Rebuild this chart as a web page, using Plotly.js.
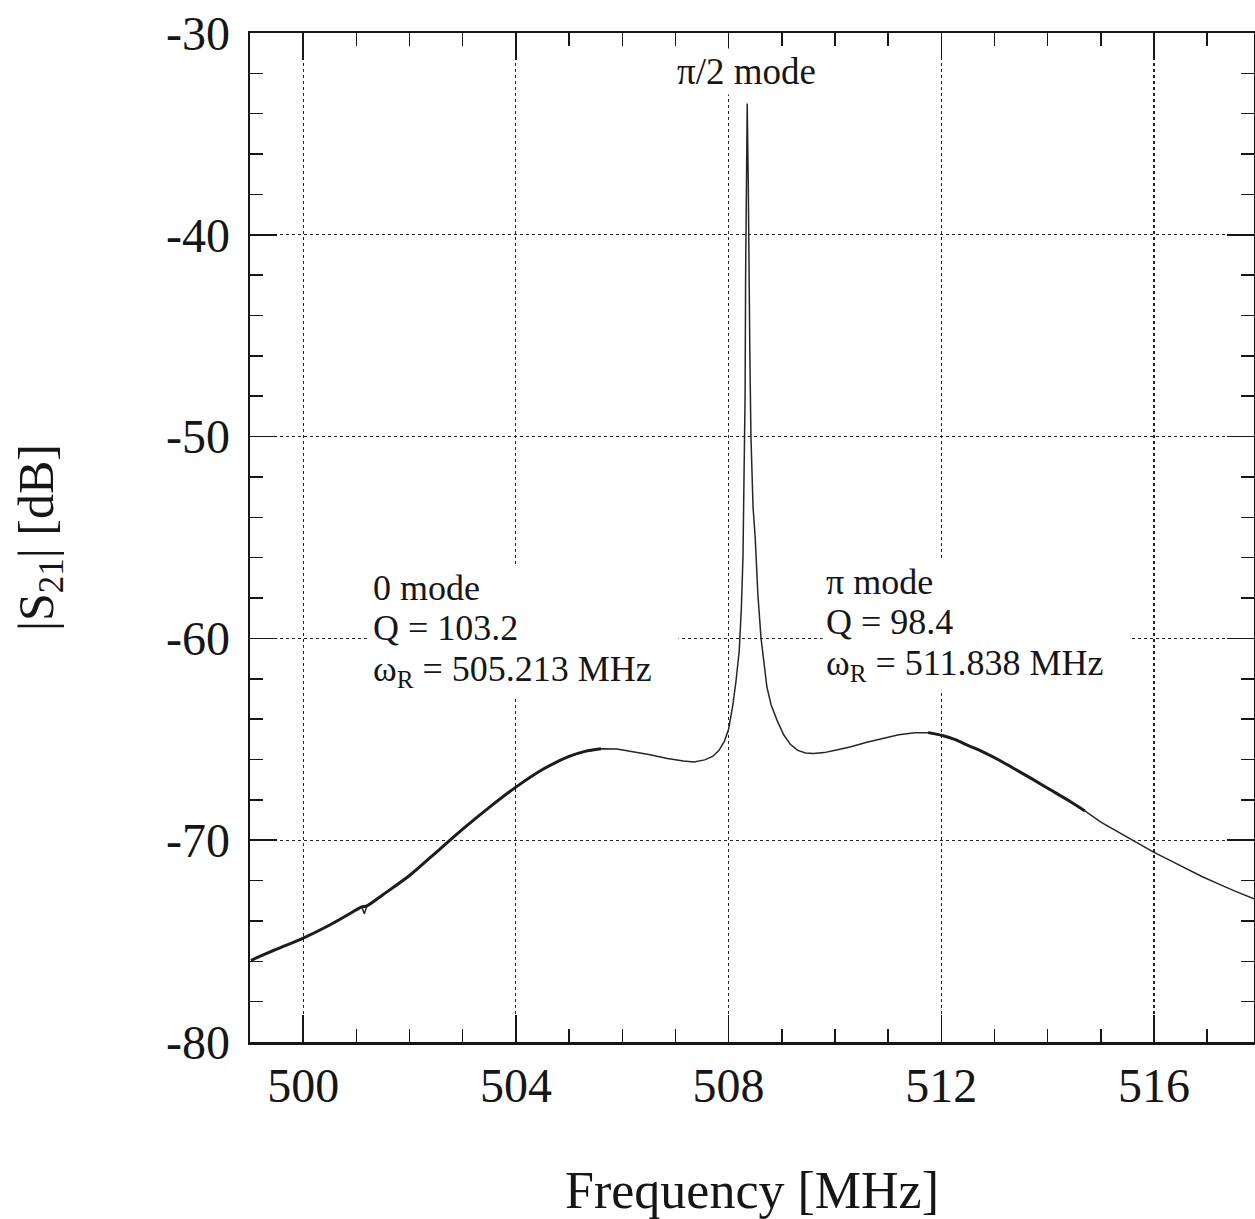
<!DOCTYPE html>
<html>
<head>
<meta charset="utf-8">
<script src="https://cdn.plot.ly/plotly-3.0.1.min.js"></script>
<style>
  html, body { margin: 0; padding: 0; background: #ffffff; overflow: hidden; }
  #chart { width: 1255px; height: 1219px; }
</style>
</head>
<body>
<div id="chart"></div>
<script>
// Transmission |S21| of the three-cell structure, measured across the passband (MHz, dB)
const freqMHz = [
  499.02, 499.5, 500.0, 500.5, 501.0, 501.1, 501.15, 501.2, 501.5, 502.0,
  502.5, 503.0, 503.5, 504.0, 504.5, 505.0, 505.3, 505.6, 505.9, 506.2,
  506.5, 506.85, 507.15, 507.35, 507.55, 507.7, 507.82,
  507.92, 508.0, 508.08, 508.14, 508.2, 508.24, 508.27, 508.29, 508.31, 508.32,
  508.33, 508.35, 508.37, 508.38, 508.4, 508.42, 508.46, 508.5, 508.55, 508.61,
  508.67, 508.72, 508.8, 508.91, 509.03, 509.16, 509.3, 509.45, 509.6, 509.8,
  510.05, 510.3, 510.6, 510.9, 511.2, 511.5, 511.75, 512.0, 512.25, 512.5,
  512.8, 513.1, 513.4, 513.73, 514.05, 514.37, 514.7, 515.0, 515.3, 515.6,
  516.0, 516.3, 516.6, 516.9, 517.2, 517.5, 517.88
];
const s21dB = [
  -75.95, -75.4, -74.85, -74.2, -73.45, -73.3, -73.65, -73.25, -72.7, -71.75,
  -70.6, -69.45, -68.37, -67.37, -66.5, -65.85, -65.6, -65.47, -65.48, -65.6,
  -65.75, -65.95, -66.08, -66.12, -66.02, -65.85, -65.55,
  -65.1, -64.5, -63.3, -62.1, -60.6, -58.5, -56.0, -52.5, -48.0, -42.0,
  -37.0, -33.5, -37.5, -41.0, -46.0, -50.0, -53.5, -55.0, -57.8, -60.0,
  -61.5, -62.4, -63.3, -64.05, -64.75, -65.25, -65.55, -65.68, -65.7, -65.66,
  -65.52, -65.37, -65.15, -64.95, -64.78, -64.68, -64.67, -64.8, -65.0, -65.3,
  -65.65, -66.05, -66.5, -67.0, -67.5, -68.0, -68.55, -69.1, -69.55, -70.0,
  -70.6, -71.0, -71.42, -71.8, -72.15, -72.5, -72.9
];

// Frequency spans over which the fitted 0-mode and pi-mode curves overlay the trace
const fitSpansMHz = [[499.02, 505.75], [511.6, 514.8]];

// Axis ticks
const xTickVals = [500, 504, 508, 512, 516];
const xTickText = ['500', '504', '508', '512', '516'];
const yTickVals = [-80, -70, -60, -50, -40, -30];
const yTickText = ['-80', '-70', '-60', '-50', '-40', '-30'];

// Mode labels
const zeroModeLines = ['0 mode', 'Q = 103.2', 'ω<sub>R</sub> = 505.213 MHz'];
const piModeLines = ['π mode', 'Q = 98.4', 'ω<sub>R</sub> = 511.838 MHz'];
const halfPiMode = 'π/2 mode';

const serif = 'Liberation Serif, Times New Roman, Times, serif';
const ink = '#161616';

function inSpan(f, span) {
  return f >= span[0] && f <= span[1];
}

const traces = [
  {
    x: freqMHz, y: s21dB, type: 'scatter', mode: 'lines',
    line: { color: '#262626', width: 1.5 },
    hoverinfo: 'x+y', showlegend: false
  }
];
// Thicker overlay where measured trace and fit coincide
fitSpansMHz.forEach(span => {
  const fx = [], fy = [];
  freqMHz.forEach((f, i) => {
    if (inSpan(f, span) && !(f > 501.1 && f < 501.2)) { fx.push(f); fy.push(s21dB[i]); }
  });
  traces.push({
    x: fx, y: fy, type: 'scatter', mode: 'lines',
    line: { color: '#1c1c1c', width: 3, shape: 'spline', smoothing: 0.8 },
    hoverinfo: 'skip', showlegend: false
  });
});

// A text block set tight: the base size sets the line pitch,
// the spans carry the visible size.
function block(lines, f0, yMid) {
  const body = lines.map(t => '<span style="font-size:36px">' + t + '</span>').join('<br>');
  return {
    x: f0, y: yMid, xref: 'x', yref: 'y',
    xanchor: 'left', yanchor: 'middle', align: 'left',
    text: body, showarrow: false, width: 302, bgcolor: '#ffffff', borderpad: 3,
    font: { family: serif, size: 31, color: ink }
  };
}

const annotations = [
  block(zeroModeLines, 501.24, -59.6),
  block(piModeLines, 509.76, -59.3),
  {
    x: 508.33, y: -31.93, xref: 'x', yref: 'y', xanchor: 'center', yanchor: 'middle',
    text: halfPiMode, showarrow: false, bgcolor: '#ffffff', borderpad: 2,
    font: { family: serif, size: 37, color: ink }
  }
];

const axisCommon = {
  showline: true, linecolor: ink, linewidth: 2.5, mirror: 'allticks',
  ticks: 'inside', ticklen: 27, tickwidth: 1.5, tickcolor: ink,
  showgrid: true, gridcolor: '#222222', gridwidth: 1.2, griddash: 'dot',
  zeroline: false, tickmode: 'array',
  tickfont: { family: serif, size: 48, color: ink }
};

const layout = {
  width: 1255, height: 1219,
  margin: { l: 250, r: 1, t: 33, b: 177 },
  paper_bgcolor: '#ffffff', plot_bgcolor: '#ffffff',
  showlegend: false,
  xaxis: Object.assign({}, axisCommon, {
    range: [499.0, 517.88],
    tickvals: xTickVals, ticktext: xTickText,
    ticklabelstandoff: 0,
    minor: { tickmode: 'linear', tick0: 500, dtick: 1, ticks: 'inside', ticklen: 13, tickwidth: 1.5, tickcolor: ink, showgrid: false },
    title: { text: 'Frequency [MHz]', standoff: 64, font: { family: serif, size: 52, color: ink } }
  }),
  yaxis: Object.assign({}, axisCommon, {
    range: [-80, -30],
    tickvals: yTickVals, ticktext: yTickText,
    ticklabelstandoff: 8,
    minor: { tickmode: 'linear', tick0: -80, dtick: 2, ticks: 'inside', ticklen: 13, tickwidth: 1.5, tickcolor: ink, showgrid: false },
    title: { text: '|S<sub>21</sub>| [dB]', standoff: 97, font: { family: serif, size: 50, color: ink } }
  }),
  annotations: annotations
};

Plotly.newPlot('chart', traces, layout, { staticPlot: true, displayModeBar: false });
</script>
</body>
</html>
